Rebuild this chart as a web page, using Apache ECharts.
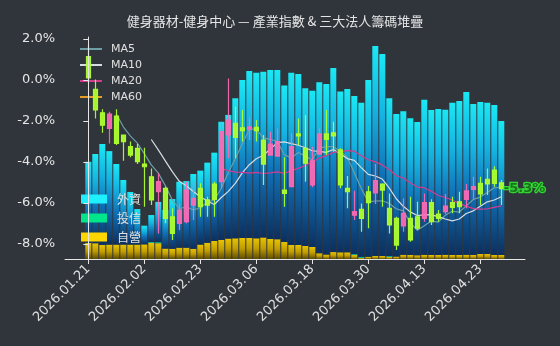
<!DOCTYPE html>
<html><head><meta charset="utf-8">
<script src="https://cdn.jsdelivr.net/npm/echarts@6/dist/echarts.min.js"></script>
<style>html,body{margin:0;padding:0;background:#30353b;}#c{width:560px;height:346px;}</style>
</head><body><div id="c"></div>
<script>
const dates = ['2026.01.21','2026.01.22','2026.01.23','2026.01.26','2026.01.27','2026.01.28','2026.01.29','2026.01.30','2026.02.02','2026.02.03','2026.02.04','2026.02.05','2026.02.06','2026.02.09','2026.02.10','2026.02.11','2026.02.23','2026.02.24','2026.02.25','2026.02.26','2026.03.02','2026.03.03','2026.03.04','2026.03.05','2026.03.06','2026.03.09','2026.03.10','2026.03.11','2026.03.12','2026.03.13','2026.03.16','2026.03.17','2026.03.18','2026.03.19','2026.03.20','2026.03.23','2026.03.24','2026.03.25','2026.03.26','2026.03.27','2026.03.30','2026.03.31','2026.04.01','2026.04.02','2026.04.07','2026.04.08','2026.04.09','2026.04.10','2026.04.13','2026.04.14','2026.04.15','2026.04.16','2026.04.17','2026.04.20','2026.04.21','2026.04.22','2026.04.23','2026.04.24','2026.04.27','2026.04.28'];
const tickIdx = [0,8,16,24,32,40,48,56];
const yTicks = [-8,-6,-4,-2,0,2];

const opens  = [1.14,-0.45,-1.60,-2.36,-1.76,-2.68,-3.25,-3.33,-4.10,-4.72,-5.45,-5.28,-6.67,-6.99,-6.91,-6.10,-5.28,-5.85,-5.07,-4.96,-2.68,-2.11,-2.33,-2.40,-2.31,-2.93,-3.66,-3.71,-5.37,-5.20,-2.63,-3.33,-5.12,-3.61,-2.63,-2.57,-3.41,-5.28,-6.59,-6.31,-5.45,-5.50,-5.07,-6.26,-6.75,-7.12,-6.75,-6.67,-6.75,-5.98,-6.54,-6.42,-5.98,-5.94,-5.82,-5.33,-5.04,-4.84,-4.39,-5.01];
const closes = [0.10,-1.46,-2.20,-1.66,-3.09,-3.00,-3.66,-3.98,-4.23,-5.85,-4.96,-6.75,-7.48,-6.34,-5.37,-5.77,-6.18,-6.10,-5.82,-2.52,-1.95,-2.80,-2.47,-2.28,-2.47,-4.10,-3.12,-3.00,-5.53,-3.25,-2.73,-4.06,-3.94,-2.63,-2.89,-2.73,-5.12,-5.45,-6.42,-6.75,-5.98,-4.91,-5.37,-7.07,-8.05,-6.50,-7.80,-7.23,-5.98,-6.91,-6.75,-6.15,-6.21,-6.18,-5.41,-5.20,-5.56,-5.07,-5.04,-5.30];
const highs  = [1.70,0.03,-1.43,-1.55,-1.43,-2.68,-3.00,-3.12,-3.30,-4.31,-4.55,-5.20,-6.26,-6.02,-4.96,-4.96,-5.04,-5.69,-4.96,-2.03,0.08,-1.30,-1.46,-1.82,-1.95,-2.68,-2.52,-2.36,-3.77,-2.60,-1.87,-1.71,-3.25,-2.31,-1.46,-2.03,-3.33,-4.68,-5.40,-6.02,-5.17,-4.10,-5.04,-5.53,-6.67,-5.77,-5.69,-5.94,-5.53,-5.82,-6.34,-5.56,-5.69,-5.45,-5.07,-4.72,-4.72,-4.31,-4.20,-4.88];
const lows   = [-0.15,-1.87,-2.57,-3.09,-3.17,-3.94,-3.77,-4.10,-6.18,-6.10,-7.48,-6.99,-7.80,-7.32,-6.99,-6.83,-6.67,-6.67,-6.67,-5.28,-3.82,-3.82,-3.00,-2.93,-3.00,-5.12,-3.66,-3.74,-6.18,-5.23,-3.17,-4.96,-5.23,-3.66,-3.66,-3.50,-5.28,-6.26,-6.83,-7.40,-7.23,-6.05,-6.18,-7.48,-8.29,-7.40,-7.89,-7.32,-6.91,-7.07,-6.91,-6.54,-6.50,-6.50,-6.26,-5.82,-6.10,-5.61,-5.20,-6.10];

const ma5  = [null,null,null,null,-1.66,-2.28,-2.72,-3.08,-3.59,-4.14,-4.54,-5.15,-5.85,-6.28,-6.18,-6.34,-6.23,-5.95,-5.85,-5.28,-4.51,-3.84,-3.11,-2.40,-2.39,-2.82,-2.89,-2.99,-3.64,-3.80,-3.53,-3.71,-3.90,-3.32,-3.25,-3.25,-3.46,-3.76,-4.52,-5.29,-5.94,-5.90,-5.89,-6.02,-6.28,-6.38,-6.96,-7.33,-7.11,-6.88,-6.93,-6.60,-6.40,-6.44,-6.14,-5.83,-5.71,-5.48,-5.26,-5.23];
const ma10 = [null,null,null,null,null,null,null,null,null,-2.90,-3.41,-3.94,-4.47,-4.94,-5.16,-5.44,-5.69,-5.90,-6.07,-5.73,-5.43,-5.04,-4.53,-4.13,-3.84,-3.67,-3.37,-3.05,-3.02,-3.10,-3.18,-3.30,-3.45,-3.48,-3.53,-3.39,-3.59,-3.83,-3.92,-4.27,-4.60,-4.68,-4.83,-5.27,-5.79,-6.16,-6.43,-6.61,-6.57,-6.58,-6.66,-6.78,-6.87,-6.78,-6.51,-6.38,-6.16,-5.94,-5.85,-5.69];
const ma20 = [null,null,null,null,null,null,null,null,null,null,null,null,null,null,null,null,null,null,null,-4.32,-4.42,-4.49,-4.50,-4.54,-4.50,-4.56,-4.53,-4.48,-4.55,-4.42,-4.31,-4.17,-3.99,-3.81,-3.69,-3.53,-3.48,-3.44,-3.47,-3.69,-3.89,-3.99,-4.14,-4.38,-4.66,-4.78,-5.01,-5.22,-5.25,-5.43,-5.63,-5.73,-5.85,-6.03,-6.15,-6.27,-6.30,-6.28,-6.21,-6.14];
const ma60 = [];

const foreign = [36.5,40.2,45.5,42.1,36.3,29.1,23.7,16.0,8.4,12.1,18.1,17.4,22.4,29.7,30.0,33.7,33.3,36.1,39.8,53.2,55.7,63.1,71.1,75.2,74.6,74.7,76.1,76.2,70.4,77.6,77.0,71.0,70.4,77.0,76.8,82.9,72.4,73.6,71.2,69.4,79.6,94.5,90.9,71.1,64.2,64.6,61.6,60.0,69.8,65.3,65.8,65.3,68.6,69.4,73.3,68.0,68.4,68.1,67.6,60.4];
const trust   = [0,0,0,0,0,0,0,0,0,0.5,0.5,0,0,0,0,0,0,0,0,0,0,0,0,0,0,0,0,0,0,0,0,0,0,0,0,0,0,0,0.4,0.5,0,0,0,0.4,0,0,0,0,0,0,0,0,0,0,0,0,0,0,0,0];
const dealer  = [7.3,7.1,6.3,6.5,6.5,6.5,6.5,6.5,6.6,7.2,7.1,4.7,4.6,5.1,5.1,4.6,6.5,7.3,8.1,8.6,9.2,9.3,9.5,9.5,9.3,9.7,9.0,8.9,7.7,6.3,6.3,5.9,5.4,2.6,2.0,3.1,3.0,3.0,1.8,0.5,1.0,1.4,1.4,0.9,1.1,1.9,1.8,1.7,1.9,1.8,1.8,1.9,1.8,1.8,1.9,1.8,2.3,2.3,1.8,1.8];

const title = '健身器材-健身中心 — 產業指數 & 三大法人籌碼堆疊';
const upColor = 'rgba(255,105,180,0.92)';
const downColor = 'rgba(173,255,47,0.95)';

const chart = echarts.init(document.getElementById('c'), null, {renderer: 'canvas'});
const pairs = arr => arr.map((v, i) => [i, v]).filter(p => p[1] != null);
const grad = stops => new echarts.graphic.LinearGradient(0, 0, 0, 1, stops);

chart.setOption({
  animation: false,
  backgroundColor: '#30353b',
  title: {
    text: title, left: 275, top: 15, padding: 0, textAlign: 'center',
    textStyle: {color: '#e6e6e6', fontSize: 13, fontWeight: 'normal', fontFamily: 'Noto Sans CJK TC, DejaVu Sans'}
  },
  legend: [{
    data: ['MA5', 'MA10', 'MA20', 'MA60'],
    orient: 'vertical', left: 75, top: 37, itemGap: 2,
    icon: 'rect', itemWidth: 22, itemHeight: 2,
    textStyle: {color: '#e0e0e0', fontSize: 11, lineHeight: 14, padding: [0, 0, 0, 4], fontFamily: 'DejaVu Sans'}
  }, {
    data: [
      {name: '外資', itemStyle: {color: '#1ef0ff'}},
      {name: '投信', itemStyle: {color: '#00e68a'}},
      {name: '自營', itemStyle: {color: '#ffd500'}}
    ],
    orient: 'vertical', left: 76, top: 187, itemGap: 5,
    icon: 'rect', itemWidth: 26, itemHeight: 9,
    textStyle: {color: '#e0e0e0', fontSize: 12, lineHeight: 14, padding: [0, 0, 0, 5], fontFamily: 'Noto Sans CJK TC'}
  }],
  grid: [
    {left: 65, right: 35, top: 37, bottom: 87},
    {left: 84.8, right: 55.2, top: 37, bottom: 87}
  ],
  xAxis: [{
    type: 'value', min: -3.33, max: 62.39, gridIndex: 0, z: 10,
    splitLine: {show: false},
    axisLine: {show: true, onZero: false, lineStyle: {color: '#e6e6e6', width: 1}},
    axisTick: {show: true, length: 5, customValues: tickIdx, lineStyle: {color: '#e6e6e6'}},
    axisLabel: {
      customValues: tickIdx, rotate: 45, margin: 8,
      color: '#e0e0e0', fontSize: 13, fontFamily: 'DejaVu Sans',
      formatter: v => dates[Math.round(v)] || ''
    }
  }, {
    type: 'category', gridIndex: 1, data: dates, boundaryGap: true, show: false
  }],
  yAxis: [{
    type: 'value', min: -8.73, max: 2.10, gridIndex: 0, z: 10,
    splitLine: {show: false},
    axisLine: {show: true, lineStyle: {color: '#e6e6e6', width: 1}},
    axisTick: {show: true, length: 5, customValues: yTicks, lineStyle: {color: '#e6e6e6'}},
    axisLabel: {
      customValues: yTicks, margin: 10, color: '#e6e6e6', fontSize: 13, fontFamily: 'DejaVu Sans',
      formatter: v => v.toFixed(1) + '%'
    }
  }, {
    type: 'value', gridIndex: 1, min: 0, max: 100, show: false, splitLine: {show: false}
  }],
  series: [
    {name: '自營', type: 'bar', stack: 'inst', xAxisIndex: 1, yAxisIndex: 1, barWidth: 6, z: 1,
     itemStyle: {color: grad([{offset: 0, color: '#e8c400'}, {offset: 0.5, color: '#c09c00'}, {offset: 1, color: '#5e4c00'}])},
     data: dealer},
    {name: '投信', type: 'bar', stack: 'inst', xAxisIndex: 1, yAxisIndex: 1, barWidth: 6, z: 1,
     itemStyle: {color: '#12b893'}, data: trust},
    {name: '外資', type: 'bar', stack: 'inst', xAxisIndex: 1, yAxisIndex: 1, barWidth: 6, z: 1,
     itemStyle: {color: grad([{offset: 0, color: '#1ae8f4'}, {offset: 0.3, color: '#14b4e2'}, {offset: 0.6, color: '#1070b6'}, {offset: 1, color: '#0c2f5e'}])},
     data: foreign},
    {name: 'MA5', type: 'line', symbol: 'none', z: 3, data: pairs(ma5),
     itemStyle: {color: '#6d9fa6'}, lineStyle: {color: '#6d9fa6', width: 1.2}},
    {name: 'MA10', type: 'line', symbol: 'none', z: 3, data: pairs(ma10),
     itemStyle: {color: '#d6dce2'}, lineStyle: {color: '#d6dce2', width: 1.2}},
    {name: 'MA20', type: 'line', symbol: 'none', z: 3, data: pairs(ma20),
     itemStyle: {color: '#d23c8e'}, lineStyle: {color: '#d23c8e', width: 1.2}},
    {name: 'MA60', type: 'line', symbol: 'none', z: 3, data: pairs(ma60),
     itemStyle: {color: '#e69c24'}, lineStyle: {color: '#e69c24', width: 1.2}},
    {name: 'K', type: 'candlestick', z: 4, barWidth: 5,
     encode: {x: 0, y: [1, 2, 3, 4]},
     itemStyle: {color: upColor, color0: downColor, borderColor: upColor, borderColor0: downColor, borderWidth: 1.2},
     data: dates.map((d, i) => [i, opens[i], closes[i], lows[i], highs[i]])},
    {name: 'last', type: 'scatter', z: 5, symbolSize: 1, itemStyle: {color: 'rgba(0,0,0,0)'},
     data: [[closes.length - 1, closes[closes.length - 1]]],
     label: {show: true, position: 'right', distance: 2, formatter: p => p.value[1].toFixed(1) + '%',
       color: '#145a14', fontSize: 13, fontWeight: 'bold', fontFamily: 'DejaVu Sans',
       textBorderColor: '#33ff33', textBorderWidth: 2.5}}
  ]
});
</script>
</body></html>
